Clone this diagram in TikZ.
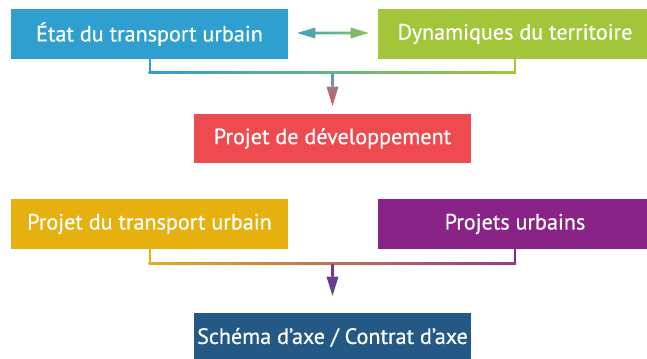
\documentclass[tikz,border=0pt]{standalone}
\usepackage{fontspec}
\setmainfont{PT Sans}
\newfontfamily\boxfont{PT Sans}[FakeBold=0.6]
\usetikzlibrary{calc}
\definecolor{cblue}{HTML}{2F9FD0}
\definecolor{cgreen}{HTML}{A2C539}
\definecolor{cred}{HTML}{EF4A50}
\definecolor{cyellow}{HTML}{E6B10E}
\definecolor{cpurple}{HTML}{8A2387}
\definecolor{cdark}{HTML}{245985}
\definecolor{aleft}{HTML}{3FA2C2}
\definecolor{aright}{HTML}{8FC154}
\definecolor{stemtop}{HTML}{4A9FC0}
\definecolor{stembot}{HTML}{8C8A9E}
\definecolor{headtop}{HTML}{9C7C8C}
\definecolor{headbot}{HTML}{E24A55}
\definecolor{lhleft}{HTML}{E2AE1A}
\definecolor{lhright}{HTML}{963A8E}
\definecolor{lstemtop}{HTML}{8A2C8A}
\definecolor{lstembot}{HTML}{6A3C8C}
\definecolor{lheadbot}{HTML}{584A8A}
\begin{document}
\begin{tikzpicture}[x=0.75pt,y=-0.75pt,
  box/.style={fill=#1, text=white, inner sep=0pt, minimum height=37.5pt,
    font=\boxfont\fontsize{16.6}{19}\selectfont, anchor=center},
  wide/.style={minimum width=207.75pt},
  side/.style={minimum width=205.5pt},
  conn/.style={line width=1.5pt}]
\useasboundingbox (0,0) rectangle (647,359);
% boxes
\node[box=cblue, wide] (etat) at (149.5,34) {État du transport urbain};
\node[box=cgreen, side] (dyn) at (515,34) {Dynamiques du territoire};
\node[box=cred, wide, minimum height=36.75pt] (dev) at (332.5,138.5) {Projet de développement};
\node[box=cyellow, wide] (ptu) at (149.5,224) {Projet du transport urbain};
\node[box=cpurple, side] (pu) at (515,224) {Projets urbains};
\node[box=cdark, wide, minimum height=36.75pt] (axe) at (332.5,337.5) {Schéma d’axe / Contrat d’axe};
% double arrow
\coordinate (al) at ([xshift=6.75pt]etat.east);
\coordinate (ar) at ([xshift=-6.75pt]dyn.west);
\shade[left color=aleft, right color=aright]
  ($(al)+(0,-1)$) -- ($(al)+(18,-6.5)$) -- ($(al)+(18,-2.3)$) -- ($(ar)+(-18,-2.3)$)
  -- ($(ar)+(-18,-6.5)$) -- ($(ar)+(0,-1)$) -- ($(ar)+(-18,4.5)$) -- ($(ar)+(-18,0.3)$)
  -- ($(al)+(18,0.3)$) -- ($(al)+(18,4.5)$) -- cycle;
% top connector
\coordinate (hy) at (0,73);
\coordinate (j1) at (dev.north |- hy);
\coordinate (t1) at ([yshift=6pt]dev.north);
\coordinate (b1) at ([yshift=20.25pt]dev.north);
\draw[conn, cblue] (etat.south) -- (etat.south |- hy);
\draw[conn, cgreen] (dyn.south) -- (dyn.south |- hy);
\shade[left color=cblue, right color=cgreen]
  ($(etat.south |- hy)+(-1,-1)$) rectangle ($(dyn.south |- hy)+(1,1)$);
\shade[top color=stemtop, bottom color=stembot]
  ($(j1)+(-1,1)$) rectangle ($(b1)+(1,0)$);
\shade[top color=headtop, bottom color=headbot]
  ($(b1)+(-6,0)$) -- ($(b1)+(6,0)$) -- (t1) -- cycle;
% bottom connector
\coordinate (hy2) at (0,264);
\coordinate (j2) at (axe.north |- hy2);
\coordinate (t2) at ([yshift=12.75pt]axe.north);
\coordinate (b2) at ([yshift=27pt]axe.north);
\draw[conn, cyellow] (ptu.south) -- (ptu.south |- hy2);
\draw[conn, cpurple] (pu.south) -- (pu.south |- hy2);
\shade[left color=lhleft, right color=lhright]
  ($(ptu.south |- hy2)+(-1,-1)$) rectangle ($(pu.south |- hy2)+(1,1)$);
\shade[top color=lstemtop, bottom color=lstembot]
  ($(j2)+(-1,1)$) rectangle ($(b2)+(1,0)$);
\shade[top color=lstembot, bottom color=lheadbot]
  ($(b2)+(-6,0)$) -- ($(b2)+(6,0)$) -- (t2) -- cycle;
\end{tikzpicture}
\end{document}
